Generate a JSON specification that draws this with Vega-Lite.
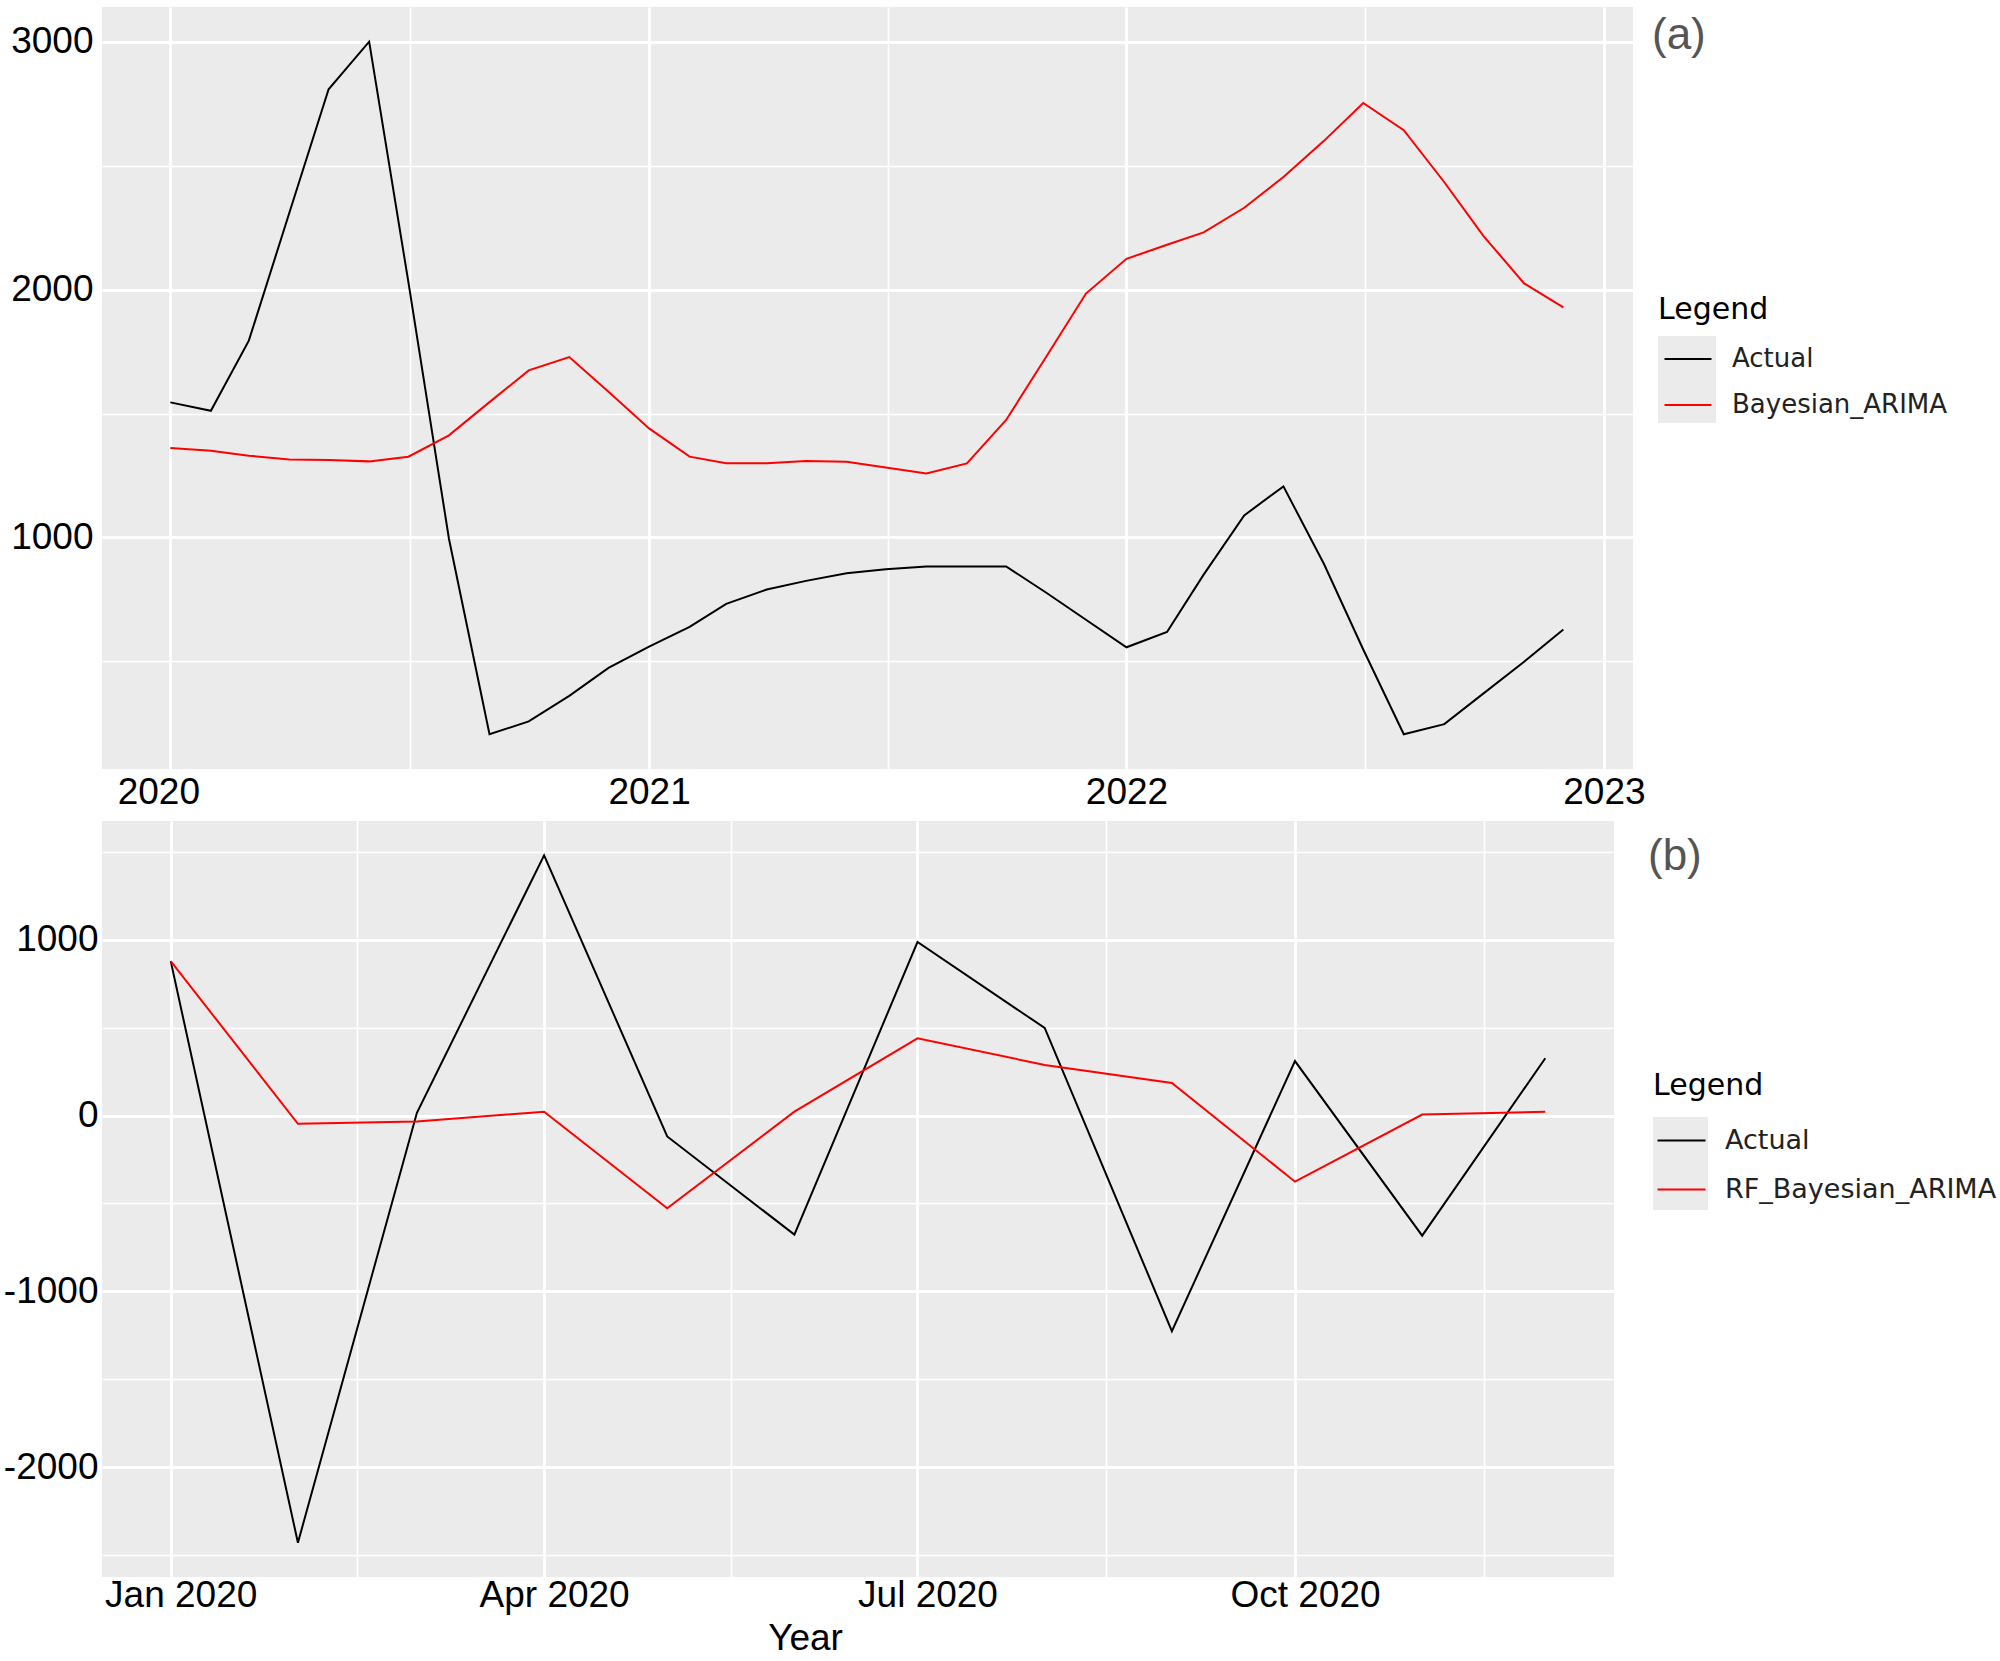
{
  "$schema": "https://vega.github.io/schema/vega-lite/v6.json",
  "autosize": {"type": "none"},
  "padding": {"left": 102, "top": 7, "right": 1898, "bottom": 1654},
  "background": "white",
  "bounds": "flush",
  "spacing": 52,
  "resolve": {"scale": {"stroke": "independent", "fill": "independent"}, "legend": {"stroke": "independent", "fill": "independent"}},
  "config": {
    "view": {"fill": "#EBEBEB", "stroke": null},
    "axis": {"domain": false, "ticks": false, "tickSize": 0, "labelFont": "Liberation Sans", "labelFontSize": 37, "labelColor": "#000000", "gridColor": "#FFFFFF", "titleFont": "Liberation Sans", "titleFontWeight": "normal", "titleColor": "#000000", "labelOverlap": false, "labelFlush": false, "labelBound": false}
  },
  "datasets": {
    "a": [
      {"date": "2020-01-01", "series": "Actual", "value": 1545},
      {"date": "2020-02-01", "series": "Actual", "value": 1511},
      {"date": "2020-03-01", "series": "Actual", "value": 1794},
      {"date": "2020-04-01", "series": "Actual", "value": 2310},
      {"date": "2020-05-01", "series": "Actual", "value": 2808},
      {"date": "2020-06-01", "series": "Actual", "value": 3000},
      {"date": "2020-07-01", "series": "Actual", "value": 2030},
      {"date": "2020-08-01", "series": "Actual", "value": 995},
      {"date": "2020-09-01", "series": "Actual", "value": 206},
      {"date": "2020-10-01", "series": "Actual", "value": 258},
      {"date": "2020-11-01", "series": "Actual", "value": 361},
      {"date": "2020-12-01", "series": "Actual", "value": 474},
      {"date": "2021-01-01", "series": "Actual", "value": 560},
      {"date": "2021-02-01", "series": "Actual", "value": 639},
      {"date": "2021-03-01", "series": "Actual", "value": 732},
      {"date": "2021-04-01", "series": "Actual", "value": 790},
      {"date": "2021-05-01", "series": "Actual", "value": 825},
      {"date": "2021-06-01", "series": "Actual", "value": 856},
      {"date": "2021-07-01", "series": "Actual", "value": 872},
      {"date": "2021-08-01", "series": "Actual", "value": 883},
      {"date": "2021-09-01", "series": "Actual", "value": 883},
      {"date": "2021-10-01", "series": "Actual", "value": 883},
      {"date": "2021-11-01", "series": "Actual", "value": 776},
      {"date": "2021-12-01", "series": "Actual", "value": 668},
      {"date": "2022-01-01", "series": "Actual", "value": 557},
      {"date": "2022-02-01", "series": "Actual", "value": 619},
      {"date": "2022-03-01", "series": "Actual", "value": 850},
      {"date": "2022-04-01", "series": "Actual", "value": 1089},
      {"date": "2022-05-01", "series": "Actual", "value": 1206},
      {"date": "2022-06-01", "series": "Actual", "value": 893},
      {"date": "2022-07-01", "series": "Actual", "value": 548},
      {"date": "2022-08-01", "series": "Actual", "value": 206},
      {"date": "2022-09-01", "series": "Actual", "value": 247},
      {"date": "2022-10-01", "series": "Actual", "value": 371},
      {"date": "2022-11-01", "series": "Actual", "value": 499},
      {"date": "2022-12-01", "series": "Actual", "value": 629},
      {"date": "2020-01-01", "series": "Bayesian_ARIMA", "value": 1361},
      {"date": "2020-02-01", "series": "Bayesian_ARIMA", "value": 1350},
      {"date": "2020-03-01", "series": "Bayesian_ARIMA", "value": 1330},
      {"date": "2020-04-01", "series": "Bayesian_ARIMA", "value": 1315},
      {"date": "2020-05-01", "series": "Bayesian_ARIMA", "value": 1313},
      {"date": "2020-06-01", "series": "Bayesian_ARIMA", "value": 1307},
      {"date": "2020-07-01", "series": "Bayesian_ARIMA", "value": 1326},
      {"date": "2020-08-01", "series": "Bayesian_ARIMA", "value": 1412},
      {"date": "2020-09-01", "series": "Bayesian_ARIMA", "value": 1546},
      {"date": "2020-10-01", "series": "Bayesian_ARIMA", "value": 1674},
      {"date": "2020-11-01", "series": "Bayesian_ARIMA", "value": 1728},
      {"date": "2020-12-01", "series": "Bayesian_ARIMA", "value": 1588},
      {"date": "2021-01-01", "series": "Bayesian_ARIMA", "value": 1440},
      {"date": "2021-02-01", "series": "Bayesian_ARIMA", "value": 1326},
      {"date": "2021-03-01", "series": "Bayesian_ARIMA", "value": 1299},
      {"date": "2021-04-01", "series": "Bayesian_ARIMA", "value": 1299},
      {"date": "2021-05-01", "series": "Bayesian_ARIMA", "value": 1309},
      {"date": "2021-06-01", "series": "Bayesian_ARIMA", "value": 1305},
      {"date": "2021-07-01", "series": "Bayesian_ARIMA", "value": 1282},
      {"date": "2021-08-01", "series": "Bayesian_ARIMA", "value": 1258},
      {"date": "2021-09-01", "series": "Bayesian_ARIMA", "value": 1299},
      {"date": "2021-10-01", "series": "Bayesian_ARIMA", "value": 1474},
      {"date": "2021-11-01", "series": "Bayesian_ARIMA", "value": 1732},
      {"date": "2021-12-01", "series": "Bayesian_ARIMA", "value": 1984},
      {"date": "2022-01-01", "series": "Bayesian_ARIMA", "value": 2124},
      {"date": "2022-02-01", "series": "Bayesian_ARIMA", "value": 2181},
      {"date": "2022-03-01", "series": "Bayesian_ARIMA", "value": 2231},
      {"date": "2022-04-01", "series": "Bayesian_ARIMA", "value": 2330},
      {"date": "2022-05-01", "series": "Bayesian_ARIMA", "value": 2454},
      {"date": "2022-06-01", "series": "Bayesian_ARIMA", "value": 2600},
      {"date": "2022-07-01", "series": "Bayesian_ARIMA", "value": 2753},
      {"date": "2022-08-01", "series": "Bayesian_ARIMA", "value": 2643},
      {"date": "2022-09-01", "series": "Bayesian_ARIMA", "value": 2433},
      {"date": "2022-10-01", "series": "Bayesian_ARIMA", "value": 2216},
      {"date": "2022-11-01", "series": "Bayesian_ARIMA", "value": 2025},
      {"date": "2022-12-01", "series": "Bayesian_ARIMA", "value": 1928}
    ],
    "b": [
      {"date": "2020-01-01", "series": "Actual", "value": 878},
      {"date": "2020-02-01", "series": "Actual", "value": -2429},
      {"date": "2020-03-01", "series": "Actual", "value": 16},
      {"date": "2020-04-01", "series": "Actual", "value": 1480},
      {"date": "2020-05-01", "series": "Actual", "value": -119},
      {"date": "2020-06-01", "series": "Actual", "value": -677},
      {"date": "2020-07-01", "series": "Actual", "value": 987},
      {"date": "2020-08-01", "series": "Actual", "value": 498},
      {"date": "2020-09-01", "series": "Actual", "value": -1226},
      {"date": "2020-10-01", "series": "Actual", "value": 310},
      {"date": "2020-11-01", "series": "Actual", "value": -683},
      {"date": "2020-12-01", "series": "Actual", "value": 326},
      {"date": "2020-01-01", "series": "RF_Bayesian_ARIMA", "value": 878},
      {"date": "2020-02-01", "series": "RF_Bayesian_ARIMA", "value": -47},
      {"date": "2020-03-01", "series": "RF_Bayesian_ARIMA", "value": -34},
      {"date": "2020-04-01", "series": "RF_Bayesian_ARIMA", "value": 22},
      {"date": "2020-05-01", "series": "RF_Bayesian_ARIMA", "value": -527},
      {"date": "2020-06-01", "series": "RF_Bayesian_ARIMA", "value": 22},
      {"date": "2020-07-01", "series": "RF_Bayesian_ARIMA", "value": 439},
      {"date": "2020-08-01", "series": "RF_Bayesian_ARIMA", "value": 288},
      {"date": "2020-09-01", "series": "RF_Bayesian_ARIMA", "value": 185},
      {"date": "2020-10-01", "series": "RF_Bayesian_ARIMA", "value": -376},
      {"date": "2020-11-01", "series": "RF_Bayesian_ARIMA", "value": 6},
      {"date": "2020-12-01", "series": "RF_Bayesian_ARIMA", "value": 22}
    ]
  },
  "vconcat": [
    {
      "width": 1531,
      "height": 762,
      "data": {"name": "a"},
      "title": {"text": "(a)", "orient": "top", "anchor": "end", "frame": "group", "align": "left", "baseline": "top", "dx": 19, "dy": 51, "offset": 0, "font": "Liberation Sans", "fontSize": 44, "fontWeight": "normal", "color": "#555555"},
      "resolve": {"axis": {"x": "independent", "y": "independent"}},
      "layer": [
        {
          "mark": {"type": "point", "filled": true, "opacity": 1},
          "transform": [{"filter": "false"}],
          "encoding": {
            "fill": {"field": "box", "type": "nominal", "scale": {"domain": ["k"], "range": ["#EBEBEB"]},
              "legend": {"title": null, "orient": "none", "legendX": 1556, "legendY": 329, "direction": "vertical", "labelFontSize": 10, "labelColor": "rgba(0,0,0,0)", "labelExpr": "''", "symbolType": "M-1.318,-1H1.318V2.955H-1.318Z", "symbolSize": 1936, "symbolStrokeWidth": 0, "symbolStrokeColor": "rgba(0,0,0,0)", "symbolOpacity": 1, "symbolOffset": 7, "rowPadding": 0, "padding": 0}}
          }
        },
        {
          "mark": {"type": "line", "strokeWidth": 2},
          "encoding": {
            "x": {"field": "date", "type": "temporal",
              "scale": {"type": "utc", "domain": [{"year": 2019, "month": 11, "date": 9, "hours": 18, "utc": true}, {"year": 2023, "month": 1, "date": 23, "hours": 6, "utc": true}]},
              "axis": {"orient": "bottom", "values": [{"year": 2020, "month": 7, "date": 2, "utc": true}, {"year": 2021, "month": 7, "date": 2, "hours": 12, "utc": true}, {"year": 2022, "month": 7, "date": 2, "hours": 12, "utc": true}], "grid": true, "gridWidth": 1.6, "labels": false, "title": null}},
            "y": {"field": "value", "type": "quantitative",
              "scale": {"domain": [66, 3140], "zero": false, "nice": false},
              "axis": {"orient": "left", "values": [500, 1500, 2500], "grid": true, "gridWidth": 1.6, "labels": false, "title": null}},
            "stroke": {"field": "series", "type": "nominal", "scale": {"domain": ["Actual", "Bayesian_ARIMA"], "range": ["#000000", "#FF0000"]},
              "legend": {"title": "Legend", "orient": "none", "legendX": 1556, "legendY": 288, "direction": "vertical", "titleFont": "DejaVu Sans", "titleFontSize": 30, "titleFontWeight": "normal", "titleColor": "#000000", "titlePadding": 11, "labelFont": "DejaVu Sans", "labelFontSize": 26, "labelColor": "#222222", "labelOffset": 21, "labelLimit": 400, "symbolType": "M-1.068,0H1.068M0,-0.84M0,0.84", "symbolSize": 1936, "symbolStrokeWidth": 2, "symbolOffset": 7, "rowPadding": 0, "padding": 0}}
          }
        },
        {
          "mark": {"type": "point"},
          "transform": [{"filter": "false"}],
          "encoding": {
            "x": {"field": "date", "type": "temporal",
              "scale": {"type": "utc", "domain": [{"year": 2019, "month": 11, "date": 9, "hours": 18, "utc": true}, {"year": 2023, "month": 1, "date": 23, "hours": 6, "utc": true}]},
              "axis": {"orient": "bottom", "values": [{"year": 2020, "month": 1, "date": 1, "utc": true}, {"year": 2021, "month": 1, "date": 1, "utc": true}, {"year": 2022, "month": 1, "date": 1, "utc": true}, {"year": 2023, "month": 1, "date": 1, "utc": true}], "format": "%Y", "grid": true, "gridWidth": 2.8, "labelPadding": 5, "title": null,
                "labelOffset": {"condition": {"test": "datum.value < 1590000000000", "value": -12}, "value": 0}}},
            "y": {"field": "value", "type": "quantitative",
              "scale": {"domain": [66, 3140], "zero": false, "nice": false},
              "axis": {"orient": "left", "values": [1000, 2000, 3000], "grid": true, "gridWidth": 2.8, "labelPadding": 9, "labelExpr": "'' + datum.value", "title": null}}
          }
        }
      ]
    },
    {
      "width": 1512,
      "height": 756,
      "data": {"name": "b"},
      "title": {"text": "(b)", "orient": "top", "anchor": "end", "frame": "group", "align": "left", "baseline": "top", "dx": 34, "dy": 58, "offset": 0, "font": "Liberation Sans", "fontSize": 44, "fontWeight": "normal", "color": "#555555"},
      "resolve": {"axis": {"x": "independent", "y": "independent"}},
      "layer": [
        {
          "mark": {"type": "point", "filled": true, "opacity": 1},
          "transform": [{"filter": "false"}],
          "encoding": {
            "fill": {"field": "box", "type": "nominal", "scale": {"domain": ["k"], "range": ["#EBEBEB"]},
              "legend": {"title": null, "orient": "none", "legendX": 1551, "legendY": 296, "direction": "vertical", "labelFontSize": 10, "labelColor": "rgba(0,0,0,0)", "labelExpr": "''", "symbolType": "M-1.17,-1H1.17V2.957H-1.17Z", "symbolSize": 2209, "symbolStrokeWidth": 0, "symbolStrokeColor": "rgba(0,0,0,0)", "symbolOpacity": 1, "symbolOffset": 4, "rowPadding": 0, "padding": 0}}
          }
        },
        {
          "mark": {"type": "line", "strokeWidth": 2},
          "encoding": {
            "x": {"field": "date", "type": "temporal",
              "scale": {"type": "utc", "domain": [{"year": 2019, "month": 12, "date": 15, "hours": 6, "utc": true}, {"year": 2020, "month": 12, "date": 17, "hours": 18, "utc": true}]},
              "axis": {"orient": "bottom", "values": [{"year": 2020, "month": 2, "date": 15, "hours": 12, "utc": true}, {"year": 2020, "month": 5, "date": 16, "hours": 12, "utc": true}, {"year": 2020, "month": 8, "date": 16, "utc": true}, {"year": 2020, "month": 11, "date": 16, "utc": true}], "grid": true, "gridWidth": 1.6, "labels": false, "title": null}},
            "y": {"field": "value", "type": "quantitative",
              "scale": {"domain": [-2624, 1675], "zero": false, "nice": false},
              "axis": {"orient": "left", "values": [-2500, -1500, -500, 500, 1500], "grid": true, "gridWidth": 1.6, "labels": false, "title": null}},
            "stroke": {"field": "series", "type": "nominal", "scale": {"domain": ["Actual", "RF_Bayesian_ARIMA"], "range": ["#000000", "#FF0000"]},
              "legend": {"title": "Legend", "orient": "none", "legendX": 1551, "legendY": 250, "direction": "vertical", "titleFont": "DejaVu Sans", "titleFontSize": 30, "titleFontWeight": "normal", "titleColor": "#000000", "titlePadding": 15, "labelFont": "DejaVu Sans", "labelFontSize": 27, "labelColor": "#222222", "labelOffset": 19, "labelLimit": 400, "symbolType": "M-1.021,0H1.021M0,-0.83M0,0.83", "symbolSize": 2209, "symbolStrokeWidth": 2, "symbolOffset": 4, "rowPadding": 0, "padding": 0}}
          }
        },
        {
          "mark": {"type": "point"},
          "transform": [{"filter": "false"}],
          "encoding": {
            "x": {"field": "date", "type": "temporal",
              "scale": {"type": "utc", "domain": [{"year": 2019, "month": 12, "date": 15, "hours": 6, "utc": true}, {"year": 2020, "month": 12, "date": 17, "hours": 18, "utc": true}]},
              "axis": {"orient": "bottom", "values": [{"year": 2020, "month": 1, "date": 1, "utc": true}, {"year": 2020, "month": 4, "date": 1, "utc": true}, {"year": 2020, "month": 7, "date": 1, "utc": true}, {"year": 2020, "month": 10, "date": 1, "utc": true}], "format": "%b %Y", "grid": true, "gridWidth": 2.8, "labelPadding": 0, "labelOffset": 10, "title": "Year", "titleFontSize": 37, "titleX": 703, "titleY": 43, "titleBaseline": "top", "titleAlign": "center"}},
            "y": {"field": "value", "type": "quantitative",
              "scale": {"domain": [-2624, 1675], "zero": false, "nice": false},
              "axis": {"orient": "left", "values": [-2000, -1000, 0, 1000], "grid": true, "gridWidth": 2.8, "labelPadding": 4, "labelExpr": "'' + datum.value", "title": null}}
          }
        }
      ]
    }
  ]
}
